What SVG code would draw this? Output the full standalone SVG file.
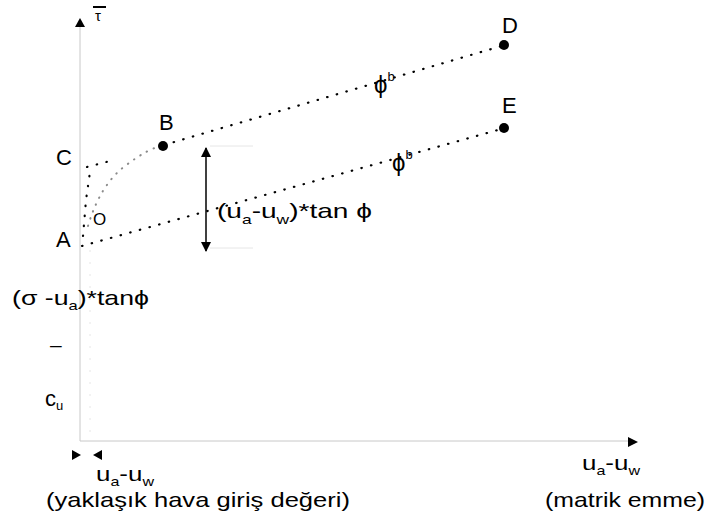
<svg xmlns="http://www.w3.org/2000/svg" width="707" height="520" viewBox="0 0 707 520">
<defs>
<style>
text{font-family:"Liberation Sans",Arial,sans-serif;fill:#000}
.lbl{font-size:22px}
.t{font-size:21px}
.sub{font-size:13px}
.phi{font-size:24px}
.axis{stroke:#c8c8c8;stroke-width:1;fill:none}
.guide{stroke:#e6e6e6;stroke-width:1;fill:none}
.dot{stroke:#000;stroke-width:2.2;stroke-dasharray:0.5 9.5;stroke-linecap:round;fill:none}
.dotl{stroke:#8a8a8a;stroke-width:2;stroke-dasharray:0.5 7;stroke-linecap:round;fill:none}
.pt{fill:#000}
</style>
<marker id="ah" viewBox="0 0 10 10" refX="9" refY="5" markerWidth="10" markerHeight="10" markerUnits="userSpaceOnUse" orient="auto-start-reverse">
<path d="M0,0 L10,5 L0,10 Z" fill="#000"/>
</marker>
</defs>
<rect width="707" height="520" fill="#fff"/>

<g id="axes">
<line class="axis" x1="80" y1="441" x2="80" y2="26"/>
<path d="M80,18 L85,27 L75,27 Z" fill="#000"/>
<line class="axis" x1="80" y1="441" x2="630" y2="441"/>
<path d="M638,442 L628,437 L628,447 Z" fill="#000"/>
<text x="95" y="21" style="font-size:15px">τ</text>
<line x1="93" y1="7" x2="106" y2="7" stroke="#000" stroke-width="2"/>
</g>

<g id="guides">
<line class="guide" x1="210" y1="146" x2="253" y2="146"/>
<line class="guide" x1="210" y1="248" x2="253" y2="248"/>
<line class="guide" x1="90" y1="250" x2="90" y2="440" stroke-dasharray="2 10"/>
</g>

<g id="connectors">
<path class="dot" d="M164,145 L505,45"/>
<path class="dot" d="M82,246 L505,128"/>
<path class="dot" d="M87,167 L110,161"/>
<path class="dot" d="M83,236 L86,200 L90,172"/>
<path class="dotl" d="M88,226 Q100,185 125,166 T163,146"/>
<line x1="206" y1="148" x2="206" y2="251" stroke="#000" stroke-width="1.5" marker-start="url(#ah)" marker-end="url(#ah)"/>
<path d="M81,455 L72,450 L72,460 Z" fill="#000"/>
<path d="M93,455 L102,450 L102,460 Z" fill="#000"/>
</g>

<g id="nodeA"><text class="lbl" x="56" y="247">A</text></g>
<g id="nodeB"><circle class="pt" cx="163" cy="146" r="5"/><text class="lbl" x="159" y="130">B</text></g>
<g id="nodeC"><text class="lbl" x="56" y="165">C</text></g>
<g id="nodeD"><circle class="pt" cx="504" cy="45" r="5"/><text class="lbl" x="502" y="33">D</text></g>
<g id="nodeE"><circle class="pt" cx="504" cy="128" r="5"/><text class="lbl" x="502" y="113">E</text></g>

<g id="labels">
<text x="93" y="225" style="font-size:17px">O</text>
<text class="phi" x="374" y="93">ϕ<tspan class="sub" dy="-12">b</tspan></text>
<text class="phi" x="392" y="171">ϕ<tspan class="sub" dy="-12">b</tspan></text>
<text class="t" x="217" y="218" textLength="155" lengthAdjust="spacingAndGlyphs">(u<tspan class="sub" dy="6">a</tspan><tspan dy="-6">-u</tspan><tspan class="sub" dy="6">w</tspan><tspan dy="-6">)*tan ϕ</tspan></text>
<text class="t" x="12" y="305" textLength="137" lengthAdjust="spacingAndGlyphs">(σ -u<tspan class="sub" dy="5">a</tspan><tspan dy="-5">)*tanϕ</tspan></text>
<text class="t" x="50" y="352">–</text>
<text class="lbl" x="45" y="406">c<tspan class="sub" dy="4">u</tspan></text>
<text class="t" x="96" y="481" textLength="58" lengthAdjust="spacingAndGlyphs">u<tspan class="sub" dy="5">a</tspan><tspan dy="-5">-u</tspan><tspan class="sub" dy="5">w</tspan></text>
<text class="t" x="46" y="507" textLength="304" lengthAdjust="spacingAndGlyphs">(yaklaşık hava giriş değeri)</text>
<text class="t" x="582" y="470" textLength="58" lengthAdjust="spacingAndGlyphs">u<tspan class="sub" dy="5">a</tspan><tspan dy="-5">-u</tspan><tspan class="sub" dy="5">w</tspan></text>
<text class="t" x="545" y="507" textLength="160" lengthAdjust="spacingAndGlyphs">(matrik emme)</text>
</g>
</svg>
